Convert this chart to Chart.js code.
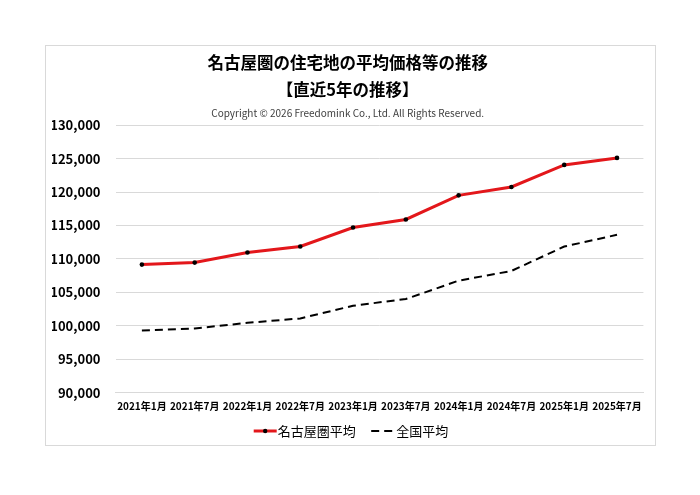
<!DOCTYPE html>
<html><head><meta charset="utf-8">
<script src="https://cdn.jsdelivr.net/npm/chart.js@4"></script>
<style>
html,body{margin:0;padding:0;background:#fff;}
#frame{position:absolute;left:45px;top:45px;width:609px;height:399px;border:1px solid #d9d9d9;}
#c{display:block;}
</style></head><body>
<div id="frame"><canvas id="c" width="609" height="399"></canvas></div>
<script>
const categories = ['2021年1月','2021年7月','2022年1月','2022年7月','2023年1月','2023年7月','2024年1月','2024年7月','2025年1月','2025年7月'];
const nagoyaAvg = [109150, 109450, 110950, 111850, 114700, 115900, 119500, 120750, 124050, 125100];
const nationalAvg = [99300, 99600, 100450, 101100, 103000, 104000, 106750, 108200, 111850, 113600];
const titleLines = ['名古屋圏の住宅地の平均価格等の推移', '【直近5年の推移】'];
const copyright = 'Copyright © 2026 Freedomink Co., Ltd. All Rights Reserved.';
const FONT = "'Noto Sans CJK JP', 'Noto Sans', sans-serif";
const RED = '#e3171b';

const legendLines = {
  id: 'legendLines',
  afterDraw(chart) {
    const lg = chart.legend;
    if (!lg || !lg.legendHitBoxes || lg.legendHitBoxes.length < 2) return;
    const ctx = chart.ctx;
    const bw = lg.options.labels.boxWidth;
    const fs = lg.options.labels.font.size;
    ctx.save();
    let hb = lg.legendHitBoxes[0];
    let tx = hb.left + bw + fs / 2;
    let cy = hb.top + hb.height / 2;
    ctx.strokeStyle = RED; ctx.lineWidth = 3; ctx.setLineDash([]);
    ctx.beginPath(); ctx.moveTo(tx - 24, cy); ctx.lineTo(tx - 1, cy); ctx.stroke();
    ctx.fillStyle = '#000';
    ctx.beginPath(); ctx.arc(tx - 12.5, cy, 2.2, 0, Math.PI * 2); ctx.fill();
    hb = lg.legendHitBoxes[1];
    tx = hb.left + bw + fs / 2;
    cy = hb.top + hb.height / 2;
    ctx.strokeStyle = '#000'; ctx.lineWidth = 2; ctx.setLineDash([8, 5]);
    ctx.beginPath(); ctx.moveTo(tx - 25, cy); ctx.lineTo(tx - 4, cy); ctx.stroke();
    ctx.restore();
  }
};

new Chart(document.getElementById('c'), {
  type: 'line',
  data: {
    labels: categories,
    datasets: [
      {label: '名古屋圏平均', data: nagoyaAvg, borderColor: RED, backgroundColor: RED, borderWidth: 3,
       pointRadius: 2.3, pointBackgroundColor: '#000', pointBorderColor: '#000', pointBorderWidth: 0, tension: 0},
      {label: '全国平均', data: nationalAvg, borderColor: '#000', backgroundColor: '#000', borderWidth: 2,
       borderDash: [8, 5], pointRadius: 0, tension: 0}
    ]
  },
  options: {
    responsive: false,
    animation: false,
    devicePixelRatio: 1,
    layout: {padding: {left: 6, right: 11.6, top: 0, bottom: -2.5}},
    plugins: {
      title: {display: true, text: titleLines, color: '#000', font: {family: FONT, size: 16.5, weight: 'bold', lineHeight: 1.64}, padding: {top: 3, bottom: 4}},
      subtitle: {display: true, text: copyright, color: '#404040', font: {family: FONT, size: 10, lineHeight: 1.2}, padding: {top: 0, bottom: 6}},
      legend: {position: 'bottom',
        labels: {color: '#000', font: {family: FONT, size: 13}, boxWidth: 24, boxHeight: 10, padding: 10,
          generateLabels: chart => chart.data.datasets.map((d, i) => ({text: d.label, fillStyle: 'rgba(0,0,0,0)', strokeStyle: 'rgba(0,0,0,0)', lineWidth: 0, datasetIndex: i, hidden: false, fontColor: '#000'}))}},
      tooltip: {enabled: false}
    },
    scales: {
      x: {offset: true, grid: {display: false, drawTicks: false}, border: {display: true, color: '#d9d9d9'},
          ticks: {color: '#000', font: {family: FONT, size: 10, weight: 'bold'}, maxRotation: 0, autoSkip: false, padding: 8},
          afterFit: s => { s.height = 21.8; }},
      y: {min: 90000, max: 130000, grid: {color: '#d9d9d9', drawTicks: false}, border: {display: false},
          ticks: {stepSize: 5000, color: '#000', font: {family: FONT, size: 13, weight: 'bold'}, padding: 15,
                  callback: v => v.toLocaleString('en-US')},
          afterFit: s => { s.width = 63.5; }}
    }
  },
  plugins: [legendLines]
});
</script>
</body></html>
